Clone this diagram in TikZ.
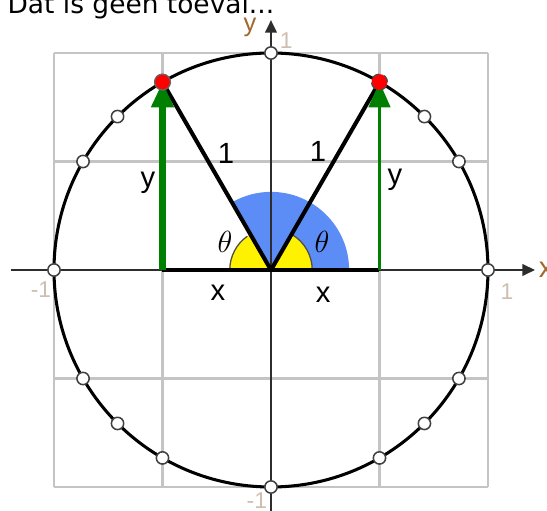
\documentclass[tikz,border=0pt]{standalone}
\usepackage{fontspec}
\setsansfont{Liberation Sans}
\newfontfamily\titlefont{DejaVu Sans}
\usetikzlibrary{arrows.meta, positioning, calc}
\definecolor{gridgray}{RGB}{196,196,196}
\definecolor{axisgray}{RGB}{45,45,45}
\definecolor{sectorblue}{RGB}{92,140,245}
\definecolor{arrowgreen}{RGB}{0,128,0}
\definecolor{ticklbl}{RGB}{205,190,175}
\definecolor{axislbl}{RGB}{160,105,45}

\begin{document}
\begin{tikzpicture}[x=3cm, y=3cm,
  every node/.style={font=\sffamily\fontsize{11.5}{13}\selectfont},
  gridline/.style={gridgray, line width=0.8pt},
  axis/.style={axisgray, line width=1pt, -{Triangle[length=5pt, width=4.5pt]}},
  unitcirc/.style={black, line width=1.2pt},
  radline/.style={black, line width=1.6pt},
  yarr/.style={arrowgreen, -{Triangle[length=10pt, width=8.5pt]}},
  openpt/.style={circle, draw=black!75, fill=white, line width=0.6pt,
                 minimum size=0.17cm, inner sep=0pt},
  redpt/.style={circle, draw=black!60, fill=red, line width=0.5pt,
                minimum size=0.22cm, inner sep=0pt},
  anglbl/.style={font=\fontsize{12.5}{14}\selectfont},
  ticklabel/.style={text=ticklbl, font=\sffamily\fontsize{9}{10}\selectfont},
]

\useasboundingbox (-1.2488,-1.1106) rectangle (1.2719,1.2442);

%% ── TITLE ─────────────────────────────────────────────────────────────
\node[anchor=base west, inner sep=0pt, font=\titlefont\fontsize{10.4}{12}\selectfont]
  (title) at (-1.216, 1.18) {Dat is geen toeval...};

%% ── GRID ──────────────────────────────────────────────────────────────
\draw[gridline] (-1,-1) grid[step=0.5] (1,1);

%% ── KEY POINTS ────────────────────────────────────────────────────────
\coordinate (O) at (0,0);
\coordinate (A) at (-0.5,0);
\coordinate (B) at ( 0.5,0);

%% ── ANGLE SECTORS ─────────────────────────────────────────────────────
\fill[sectorblue] (O) -- ++(0:1.08cm) arc[start angle=0, end angle=120, radius=1.08cm] -- cycle;
\fill[yellow] (O) -- ++(180:0.57cm) arc[start angle=180, end angle=120, radius=0.57cm] -- cycle;
\fill[yellow] (O) -- ++(0:0.57cm) arc[start angle=0, end angle=60, radius=0.57cm] -- cycle;
\draw[black!70, line width=0.5pt] ($(O)+(180:0.57cm)$) arc[start angle=180, end angle=125, radius=0.57cm];
\draw[black!70, line width=0.5pt] ($(O)+(0:0.57cm)$) arc[start angle=0, end angle=58, radius=0.57cm];

%% ── AXES ──────────────────────────────────────────────────────────────
\draw[axis] (-1.2,0) -- (1.217,0) node[right, inner sep=1pt, text=axislbl] (xlbl) {x};
\draw[axis] (0,-1.12) -- (0,1.152) coordinate (ytop);
\node[text=axislbl, inner sep=0pt, font=\sffamily\fontsize{10}{12}\selectfont] (ylbl) at (-0.097,1.12) {y};

\node[ticklabel] (t1) at (0.07,1.055)    {1};
\node[ticklabel] (t2) at (1.088,-0.10)   {1};
\node[ticklabel] (t3) at (-1.06,-0.092) {-1};
\node[ticklabel] (t4) at (-0.065,-1.065)   {-1};

%% ── UNIT CIRCLE ───────────────────────────────────────────────────────
\draw[unitcirc] (O) circle[radius=3cm];

%% ── TRIANGLES ─────────────────────────────────────────────────────────
\coordinate (P) at (120:1);
\coordinate (Q) at (60:1);
\draw[radline] (O) -- (P);
\draw[radline] (O) -- (Q);
\draw[radline] (A) -- (B);

\draw[yarr, line width=2.4pt] (A) -- (P);
\draw[yarr, line width=1.2pt] (B) -- (Q);

%% ── POINTS ON THE CIRCLE ──────────────────────────────────────────────
\foreach \a in {0,30,45,90,135,150,180,210,225,240,270,300,315,330}
  \node[openpt] (pt\a) at (\a:1) {};
\node[redpt] (ptP) at (P) {};
\node[redpt, draw=black!70, densely dashed] (ptQ) at (Q) {};

%% ── LABELS ────────────────────────────────────────────────────────────
\node (one1) at (-0.207,0.539) {1};
\node (one2) at ( 0.217,0.544) {1};
\node (ylft) at (-0.567,0.400) {y};
\node (yrgt) at ( 0.571,0.415) {y};
\node (xlft) at (-0.244,-0.106) {x};
\node (xrgt) at ( 0.240,-0.115) {x};
\node[anglbl] (th1) at (-0.212,0.129) {$\theta$};
\node[anglbl] (th2) at ( 0.235,0.129) {$\theta$};

\end{tikzpicture}
\end{document}
